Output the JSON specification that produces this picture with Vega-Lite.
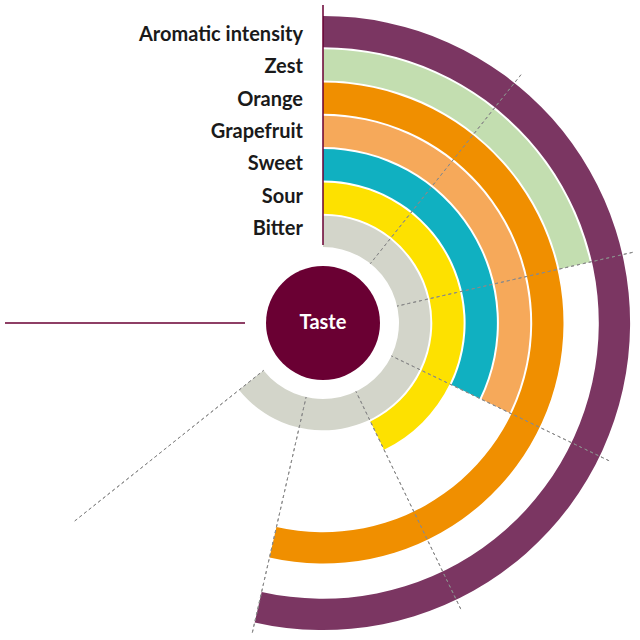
{
  "$schema": "https://vega.github.io/schema/vega-lite/v6.json",
  "width": 634,
  "height": 634,
  "autosize": {"type": "none"},
  "padding": {"left": 6, "top": 6, "right": 0, "bottom": 0},
  "background": "white",
  "config": {"view": {"stroke": null}},
  "datasets": {
    "taste": [
      {"attribute": "Aromatic intensity", "value": 5, "ring": 7},
      {"attribute": "Zest", "value": 2, "ring": 6},
      {"attribute": "Orange", "value": 5, "ring": 5},
      {"attribute": "Grapefruit", "value": 3, "ring": 4},
      {"attribute": "Sweet", "value": 3, "ring": 3},
      {"attribute": "Sour", "value": 4, "ring": 2},
      {"attribute": "Bitter", "value": 6, "ring": 1}
    ],
    "gridTicks": [{"tick": 1}, {"tick": 2}, {"tick": 3}, {"tick": 4}, {"tick": 5}, {"tick": 6}],
    "edgeTicks": [{"tick": 0}, {"tick": 7}],
    "center": [{"label": "Taste"}]
  },
  "resolve": {"scale": {"radius": "independent"}},
  "layer": [
    {
      "data": {"name": "taste"},
      "mark": {"type": "arc", "radius2Offset": -31.3},
      "encoding": {
        "theta": {"field": "value", "type": "quantitative", "stack": null,
          "scale": {"domain": [0, 7], "range": [0, 4.712389], "zero": true}},
        "theta2": {"datum": 0},
        "radius": {"field": "ring", "type": "quantitative",
          "scale": {"type": "linear", "domain": [0, 7], "range": [74, 307.1], "zero": false}},
        "radius2": {"field": "ring"},
        "color": {"field": "attribute", "type": "nominal", "legend": null,
          "scale": {
            "domain": ["Aromatic intensity", "Zest", "Orange", "Grapefruit", "Sweet", "Sour", "Bitter"],
            "range": ["#7b3662", "#c3deb0", "#f08f00", "#f6a95a", "#10b0c1", "#fde100", "#d3d5ca"]
          }}
      }
    },
    {
      "data": {"name": "center"},
      "mark": {"type": "circle", "size": 12996, "color": "#6a0033", "opacity": 1},
      "encoding": {}
    },
    {
      "data": {"name": "center"},
      "mark": {"type": "text", "font": "Lato", "fontWeight": "bold", "fontSize": 20, "color": "white", "baseline": "middle", "align": "center"},
      "encoding": {"text": {"field": "label"}}
    },
    {
      "data": {"name": "gridTicks"},
      "mark": {"type": "arc", "radius": 317.5, "radius2": 76, "filled": false, "stroke": "#8a8a8a", "strokeWidth": 1, "strokeDash": [3, 3]},
      "encoding": {
        "theta": {"field": "tick", "type": "quantitative", "stack": null},
        "theta2": {"field": "tick"}
      }
    },
    {
      "data": {"name": "edgeTicks"},
      "mark": {"type": "arc", "radius": 318, "radius2": 78, "filled": false, "stroke": "#6a0033", "strokeWidth": 1.5},
      "encoding": {
        "theta": {"field": "tick", "type": "quantitative", "stack": null},
        "theta2": {"field": "tick"}
      }
    },
    {
      "data": {"name": "taste"},
      "mark": {"type": "text", "font": "Lato", "fontWeight": "bold", "fontSize": 20, "color": "#1a1a1a", "align": "right", "baseline": "middle", "dx": -20},
      "encoding": {
        "theta": {"datum": 0, "type": "quantitative"},
        "radius": {"field": "ring", "type": "quantitative",
          "scale": {"type": "linear", "domain": [0, 7], "range": [61.7, 288], "zero": false}},
        "text": {"field": "attribute"}
      }
    }
  ]
}
